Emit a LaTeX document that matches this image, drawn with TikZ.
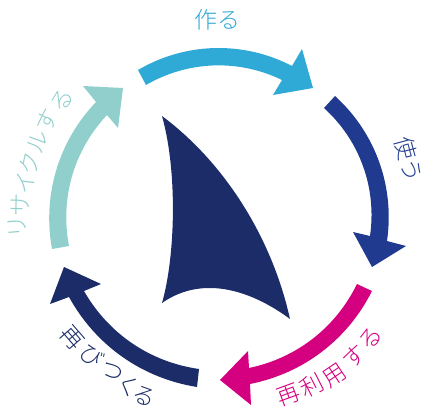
\documentclass[tikz,border=0pt]{standalone}
\usepackage{fontspec}
\newfontfamily\jpfont{Noto Sans CJK JP Light}

\definecolor{skyblue}{HTML}{2FA9D6}
\definecolor{royal}{HTML}{203A8F}
\definecolor{berry}{HTML}{D5007F}
\definecolor{navy}{HTML}{1B2C69}
\definecolor{seafoam}{HTML}{90CFCC}

\tikzset{
  kana/.style={inner sep=0pt,font=\jpfont\fontsize{23}{23}\selectfont},
  sharp/.style={looseness=0.91}
}

\begin{document}
\begin{tikzpicture}[x=1pt,y=1pt]
  \useasboundingbox (0,0) rectangle (423,408);

  % sail
  \fill[navy] (162,292) .. controls (225,245) and (272,170) .. (290,89)
      .. controls (255,115) and (205,135) .. (162,105)
      .. controls (175,150) and (178,235) .. (162,292) -- cycle;

  % arrows, outer edge then head then inner edge
  \fill[skyblue] (138,338) to[bend left=29,sharp] (292,342)
      -- (302,359) -- (313,320) -- (273,313) -- (282,328)
      to[bend right=28,sharp] (146,323) -- cycle;
  \fill[royal] (335,312) to[bend left=28,sharp] (387,167)
      -- (406,162) -- (372,141) -- (353,176) -- (370,172)
      to[bend right=28,sharp] (324,300) -- cycle;
  \fill[berry] (372,117) to[bend left=26,sharp] (250,24)
      -- (251,3) -- (220,28) -- (248,57) -- (249,40)
      to[bend right=26,sharp] (357,124) -- cycle;
  \fill[navy] (197,21) to[bend left=26,sharp] (69,111)
      -- (50,104) -- (64,141) -- (101,124) -- (84,117)
      to[bend right=26,sharp] (199,39) -- cycle;
  \fill[seafoam] (52,159) to[bend left=27,sharp] (96,306)
      -- (83,322) -- (123,320) -- (118,280) -- (107,293)
      to[bend right=27,sharp] (69,162) -- cycle;

  % labels
  \node[kana,text=skyblue] (make) at (217,388) {作る};
  \node[kana,text=royal,rotate=-75] (use) at (409,249) {使う};

  \foreach \ch/\x/\y/\r [count=\i] in
      {再/289/13/20, 利/312/22/27, 用/335/32/34, す/354/52/42, る/371/70/50}
    \node[kana,text=berry,rotate=\r] (reuse\i) at (\x,\y) {\ch};

  \foreach \ch/\x/\y/\r [count=\i] in
      {再/72/70/-49, び/92/52/-41, つ/112/36/-33, く/129/22/-27, る/144/12/-22}
    \node[kana,text=navy,rotate=\r] (remake\i) at (\x,\y) {\ch};

  \foreach \ch/\x/\y/\r [count=\i] in
      {リ/17/181/95, サ/20/203/89, イ/25/225/83, ク/30/245/77,
       ル/38/266/70, す/47/288/63, る/62/308/56}
    \node[kana,text=seafoam,rotate=\r] (recycle\i) at (\x,\y) {\ch};
\end{tikzpicture}
\end{document}
